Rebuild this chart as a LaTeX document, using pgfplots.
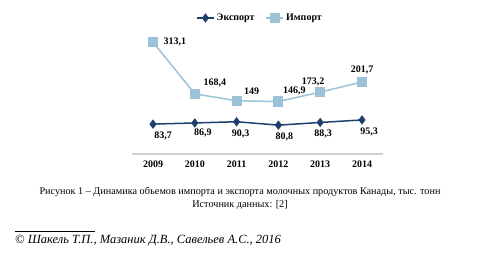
\documentclass[border=0pt]{standalone}
\usepackage{pgfplots}
\pgfplotsset{compat=1.18}
\usepackage{fontspec}
\setmainfont{Liberation Serif}
\definecolor{exportc}{HTML}{1F3F6E}
\definecolor{importc}{HTML}{9CC2D8}
\definecolor{axisc}{HTML}{D0D0D0}
\begin{document}
\begin{tikzpicture}[x=1pt,y=1pt]
\path (0,0) rectangle (480,259);
\begin{axis}[
  at={(132.1pt,105pt)}, anchor=south west,
  scale only axis, width=250.8pt, height=114.3pt,
  xmin=2008.5, xmax=2014.5, ymin=0, ymax=320,
  clip=false,
  axis x line=bottom, hide y axis,
  axis line style={axisc, line width=1.8pt, -},
  xtick={2009,2010,2011,2012,2013,2014},
  xticklabels={2009,2010,2011,2012,2013,2014},
  major tick length=0pt,
  xticklabel style={font=\bfseries\fontsize{10}{11}\selectfont, yshift=-3pt},
  legend columns=2,
  legend style={at={(0.51,1.19)}, anchor=center, draw=none, fill=none,
    font=\bfseries\fontsize{10}{11}\selectfont,
    /tikz/every even column/.append style={column sep=9pt}},
]
\addplot[color=exportc, line width=1.5pt, mark=diamond*, mark size=3.5pt,
  mark options={fill=exportc}]
  coordinates {(2009,83.7) (2010,86.9) (2011,90.3) (2012,80.8) (2013,88.3) (2014,95.3)};
\addlegendentry{Экспорт}
\addplot[color=importc, line width=1.5pt, mark=square*, mark size=4.3pt,
  mark options={fill=importc}]
  coordinates {(2009,313.1) (2010,168.4) (2011,149) (2012,146.9) (2013,173.2) (2014,201.7)};
\addlegendentry{Импорт}
\begin{scope}[every node/.style={font=\bfseries\fontsize{10}{11}\selectfont}]
\node[anchor=west, xshift=7pt] at (axis cs:2009,313.1) {313,1};
\node[xshift=20pt, yshift=11pt] at (axis cs:2010,168.4) {168,4};
\node[xshift=15pt, yshift=10pt] at (axis cs:2011,149) {149};
\node[xshift=16pt, yshift=11pt] at (axis cs:2012,146.9) {146,9};
\node[xshift=-7pt, yshift=10pt] at (axis cs:2013,173.2) {173,2};
\node[xshift=0pt, yshift=12pt] at (axis cs:2014,201.7) {201,7};
\node[xshift=10pt, yshift=-12pt] at (axis cs:2009,83.7) {83,7};
\node[xshift=8pt, yshift=-10pt] at (axis cs:2010,86.9) {86,9};
\node[xshift=4pt, yshift=-12pt] at (axis cs:2011,90.3) {90,3};
\node[xshift=6pt, yshift=-12pt] at (axis cs:2012,80.8) {80,8};
\node[xshift=3pt, yshift=-11.5pt] at (axis cs:2013,88.3) {88,3};
\node[xshift=7pt, yshift=-12pt] at (axis cs:2014,95.3) {95,3};
\end{scope}
\end{axis}
\node[font=\fontsize{10.2}{12}\selectfont] at (240,67) {Рисунок 1 – Динамика объемов импорта и экспорта молочных продуктов Канады, тыс. тонн};
\node[font=\fontsize{10.2}{12}\selectfont] at (240,54) {Источник данных: [2]};
\draw[line width=0.5pt] (15,27.5) -- (95,27.5);
\node[anchor=west, font=\itshape\fontsize{12.5}{14}\selectfont, inner sep=0pt] at (15,18) {© Шакель Т.П., Мазаник Д.В., Савельев А.С., 2016};
\end{tikzpicture}
\end{document}
